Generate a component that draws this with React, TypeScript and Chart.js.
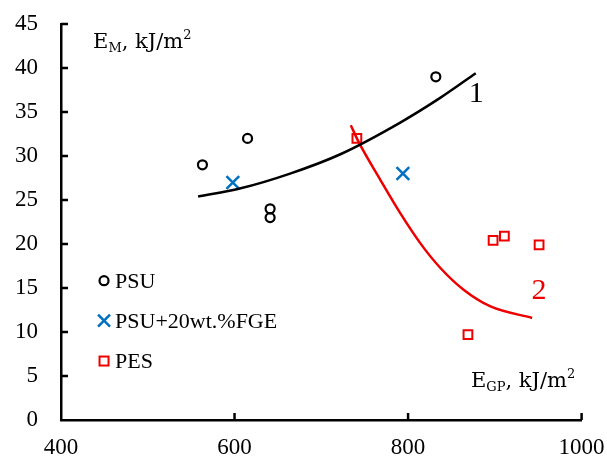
import React, { useEffect, useRef } from "react";
import { Chart, registerables } from "chart.js";

Chart.register(...registerables);

// ---- data ----
const psuX = [563, 615, 641, 641, 832];
const psuY = [29, 32, 24, 23, 39];
const fgeX = [598, 794];
const fgeY = [27, 28];
const pesX = [741, 869, 898, 911, 951];
const pesY = [32, 9.7, 20.4, 20.9, 19.9];
const curve1X = [558, 606, 664, 722, 791, 837, 878];
const curve1Y = [25.4, 26.3, 28.0, 30.2, 33.8, 36.6, 39.4];
const curve2X = [734, 743, 768, 791, 814, 837, 864, 895, 943];
const curve2Y = [33.5, 31.6, 27.3, 23.5, 20.1, 17.3, 14.8, 12.9, 11.6];
const xTicks = [400, 600, 800, 1000];
const yTicks = [0, 5, 10, 15, 20, 25, 30, 35, 40, 45];
const legendLabels = ["PSU", "PSU+20wt.%FGE", "PES"];

const BLACK = "#000000";
const BLUE = "#0070C0";
const RED = "#EE0000";
const SERIF = "'Liberation Serif', 'Times New Roman', serif";
const TITLE = "'DejaVu Serif', serif";

const zip = (xs: number[], ys: number[]) => xs.map((x, i) => ({ x, y: ys[i] }));

function drawRich(
  ctx: CanvasRenderingContext2D,
  x: number,
  y: number,
  parts: { t: string; size: number; dy: number }[]
) {
  let cx = x;
  for (const p of parts) {
    ctx.font = `${p.size}px ${TITLE}`;
    ctx.fillText(p.t, cx, y + p.dy);
    cx += ctx.measureText(p.t).width;
  }
}

const decorPlugin = {
  id: "decor",
  afterDraw(chart: any) {
    const ctx: CanvasRenderingContext2D = chart.ctx;
    const xs = chart.scales.x;
    const ys = chart.scales.y;
    const area = chart.chartArea;
    ctx.save();
    // inward ticks
    ctx.strokeStyle = BLACK;
    ctx.lineWidth = 2.5;
    ctx.beginPath();
    for (const v of xTicks) {
      if (v === xTicks[0]) continue;
      const px = xs.getPixelForValue(v);
      ctx.moveTo(px, area.bottom);
      ctx.lineTo(px, area.bottom - 7);
    }
    for (const v of yTicks) {
      if (v === yTicks[0]) continue;
      const py = ys.getPixelForValue(v);
      ctx.moveTo(area.left, py);
      ctx.lineTo(area.left + 7, py);
    }
    ctx.stroke();

    // axis titles
    ctx.fillStyle = BLACK;
    ctx.textAlign = "left";
    ctx.textBaseline = "alphabetic";
    drawRich(ctx, xs.getPixelForValue(437), ys.getPixelForValue(42.3), [
      { t: "E", size: 21, dy: 0 },
      { t: "M", size: 13, dy: 4 },
      { t: ", kJ/m", size: 21, dy: 0 },
      { t: "2", size: 13, dy: -9 },
    ]);
    drawRich(ctx, xs.getPixelForValue(872.5), ys.getPixelForValue(3.8), [
      { t: "E", size: 21, dy: 0 },
      { t: "GP", size: 13, dy: 4 },
      { t: ", kJ/m", size: 21, dy: 0 },
      { t: "2", size: 13, dy: -9 },
    ]);

    // curve labels
    ctx.textAlign = "center";
    ctx.font = `30px ${SERIF}`;
    ctx.fillStyle = BLACK;
    ctx.fillText("1", xs.getPixelForValue(878.5), ys.getPixelForValue(37.3) + 10);
    ctx.fillStyle = RED;
    ctx.fillText("2", xs.getPixelForValue(951), ys.getPixelForValue(14.9) + 10);

    // legend
    const mx = xs.getPixelForValue(449.6);
    const rows = [15.83, 11.28, 6.7].map((v) => ys.getPixelForValue(v));
    ctx.lineWidth = 2.2;
    ctx.strokeStyle = BLACK;
    ctx.beginPath();
    ctx.arc(mx, rows[0], 4.5, 0, Math.PI * 2);
    ctx.stroke();
    ctx.strokeStyle = BLUE;
    ctx.lineWidth = 2.5;
    ctx.beginPath();
    ctx.moveTo(mx - 6, rows[1] - 6);
    ctx.lineTo(mx + 6, rows[1] + 6);
    ctx.moveTo(mx + 6, rows[1] - 6);
    ctx.lineTo(mx - 6, rows[1] + 6);
    ctx.stroke();
    ctx.strokeStyle = RED;
    ctx.lineWidth = 2;
    ctx.strokeRect(mx - 4.5, rows[2] - 4.5, 9, 9);

    ctx.fillStyle = BLACK;
    ctx.textAlign = "left";
    ctx.font = `22px ${SERIF}`;
    legendLabels.forEach((l, i) => {
      ctx.fillText(l, mx + 11, rows[i] + 7);
    });
    ctx.restore();
  },
};

export default function App() {
  const ref = useRef<HTMLCanvasElement | null>(null);
  useEffect(() => {
    if (!ref.current) return;
    const chart = new Chart(ref.current, {
      type: "scatter",
      data: {
        datasets: [
          {
            label: "curve1",
            data: zip(curve1X, curve1Y),
            showLine: true,
            borderColor: BLACK,
            borderWidth: 2.5,
            pointRadius: 0,
            cubicInterpolationMode: "monotone",
          } as any,
          {
            label: "curve2",
            data: zip(curve2X, curve2Y),
            showLine: true,
            borderColor: RED,
            borderWidth: 2.5,
            pointRadius: 0,
            cubicInterpolationMode: "monotone",
          } as any,
          {
            label: legendLabels[0],
            data: zip(psuX, psuY),
            pointStyle: "circle",
            pointRadius: 4.5,
            borderWidth: 2.2,
            borderColor: BLACK,
            backgroundColor: "rgba(0,0,0,0)",
          },
          {
            label: legendLabels[1],
            data: zip(fgeX, fgeY),
            pointStyle: "crossRot",
            pointRadius: 9,
            borderWidth: 2.5,
            borderColor: BLUE,
            backgroundColor: BLUE,
          },
          {
            label: legendLabels[2],
            data: zip(pesX, pesY),
            pointStyle: "rect",
            pointRadius: 6.2,
            borderWidth: 2,
            borderColor: RED,
            backgroundColor: "rgba(0,0,0,0)",
          },
        ],
      },
      options: {
        animation: false,
        responsive: false,
        layout: { padding: { left: 0, top: 24, right: 25.4, bottom: 0 } },
        plugins: { legend: { display: false }, tooltip: { enabled: false } },
        scales: {
          x: {
            type: "linear",
            min: 400,
            max: 1000,
            afterFit: (s: any) => {
              s.height = 42;
              s.paddingLeft = 0;
              s.paddingRight = 0;
            },
            afterBuildTicks: (s: any) => {
              s.ticks = xTicks.map((v) => ({ value: v }));
            },
            grid: { display: false, drawTicks: false },
            border: { display: true, color: BLACK, width: 2.5 },
            ticks: {
              padding: 14,
              color: BLACK,
              font: { family: SERIF, size: 23 },
              maxRotation: 0,
              callback: (v: any) => String(v),
            },
          },
          y: {
            type: "linear",
            min: 0,
            max: 45,
            afterFit: (s: any) => {
              s.width = 61;
              s.paddingTop = 0;
              s.paddingBottom = 0;
            },
            afterBuildTicks: (s: any) => {
              s.ticks = yTicks.map((v) => ({ value: v }));
            },
            grid: { display: false, drawTicks: false },
            border: { display: true, color: BLACK, width: 2.5 },
            ticks: {
              padding: 23,
              color: BLACK,
              font: { family: SERIF, size: 23 },
              callback: (v: any) => String(v),
            },
          },
        },
      },
      plugins: [decorPlugin],
    });
    return () => chart.destroy();
  }, []);
  return (
    <div style={{ position: "fixed", left: 0, top: 0, width: 607, height: 462, background: "#fff" }}>
      <canvas ref={ref} width={607} height={462} style={{ width: 607, height: 462 }} />
    </div>
  );
}
